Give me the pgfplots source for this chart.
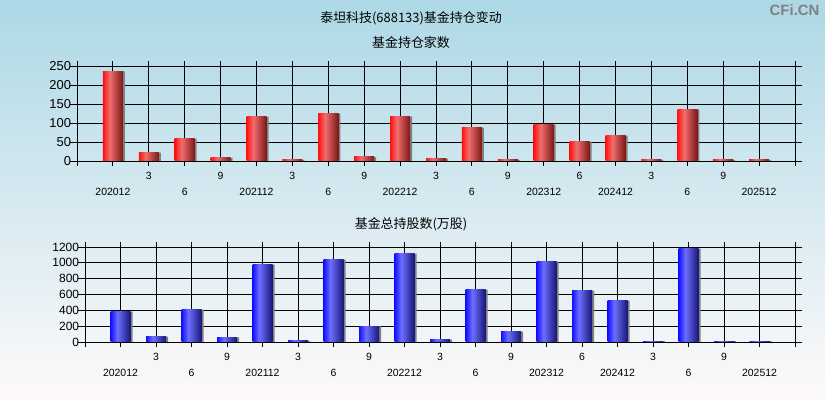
\documentclass[border=0pt]{standalone}
\usepackage{pgfplots}
\pgfplotsset{compat=1.18}
\usepackage{fontspec}
\setmainfont{Liberation Sans}
\newfontfamily\cjk{Noto Sans CJK SC}

\definecolor{bgtop}{RGB}{173,216,230}
\definecolor{bgbot}{RGB}{254,250,250}
\definecolor{r1}{RGB}{255,16,16}
\definecolor{r2}{RGB}{240,110,110}
\definecolor{r3}{RGB}{125,22,22}
\definecolor{b1}{RGB}{16,16,255}
\definecolor{b2}{RGB}{110,110,255}
\definecolor{b3}{RGB}{22,22,120}
\definecolor{shadow}{RGB}{128,128,128}
\pgfdeclarehorizontalshading{redbar}{100bp}{color(0bp)=(r1); color(25bp)=(r1); color(42bp)=(r2); color(75bp)=(r3); color(100bp)=(r3)}
\pgfdeclarehorizontalshading{bluebar}{100bp}{color(0bp)=(b1); color(25bp)=(b1); color(42bp)=(b2); color(75bp)=(b3); color(100bp)=(b3)}

% quarter index: 0 = 202012 ... 18 = 202512
\pgfplotstableread{
x  funds
0  236
1  22
2  59
3  8
4  117
5  3
6  125
7  11
8  117
9  6
10 88
11 3
12 96
13 51
14 67
15 3
16 136
17 3
18 3
}\funds
\pgfplotstableread{
x  shares
0  383
1  67
2  408
3  59
4  977
5  15
6  1040
7  198
8  1116
9  29
10 661
11 131
12 1015
13 648
14 522
15 10
16 1179
17 10
18 10
}\shares

\newcommand\lo[1]{\strut\\#1}
\pgfplotsset{
  chart/.style={
    scale only axis, height=95bp,
    xmin=-1, xmax=19, ymin=0,
    xtick={-1,...,19},
    xticklabels={{},\lo{202012},\strut3,\lo{6},\strut9,\lo{202112},\strut3,\lo{6},\strut9,\lo{202212},\strut3,\lo{6},\strut9,\lo{202312},\strut6,\lo{202412},\strut3,\lo{6},\strut9,\lo{202512},{}},
    xticklabel style={font=\fontsize{10.5}{16}\selectfont, align=center, anchor=north, inner sep=0pt, yshift=-2.5bp},
    grid=major, grid style={black, line width=0.9bp},
    axis line style={black, line width=0.9bp},
    tick style={black, line width=0.9bp},
    tick align=outside,
    xtick style={/pgfplots/major tick length=5bp},
    ytick style={/pgfplots/major tick length=7bp},
    /pgf/number format/assume math mode=true,
    /pgf/number format/1000 sep={},
  },
  shadowbar/.style={ybar, bar width=20bp, bar shift=2bp, fill=shadow, draw=none},
  bar/.style={ybar, bar width=20bp, bar shift=0pt, draw=none, shading=#1},
}

\begin{document}
\begin{tikzpicture}
\shade[top color=bgtop, bottom color=bgbot] (0,0) rectangle (825bp,400bp);

\node[font=\cjk\fontsize{13}{13}\selectfont] at (411bp,382bp) {泰坦科技(688133)基金持仓变动};
\node[font=\cjk\fontsize{13}{13}\selectfont] at (411bp,357bp) {基金持仓家数};
\node[font=\cjk\fontsize{13}{13}\selectfont] at (411bp,176bp) {基金总持股数(万股)};
\node[anchor=east, font=\bfseries\fontsize{15}{15}\selectfont, text=shadow] at (823bp,390bp) {CFi.CN};

\begin{axis}[chart, at={(77bp,239bp)}, anchor=south west,
  width=718bp, ymax=250, ytick={0,50,...,250},
  yticklabel style={font=\fontsize{13}{13}\selectfont, inner sep=1.5bp}]
\addplot[shadowbar] table[x=x, y=funds] {\funds};
\pgfplotsinvokeforeach{0,...,18}{
  \addplot[bar=redbar, restrict x to domain=#1:#1] table[x=x, y=funds] {\funds};
}
\end{axis}

\begin{axis}[chart, at={(85bp,58bp)}, anchor=south west,
  width=710bp, ymax=1200, ytick={0,200,...,1200},
  yticklabel style={font=\fontsize{12}{12}\selectfont, inner sep=1.5bp}]
\addplot[shadowbar] table[x=x, y=shares] {\shares};
\pgfplotsinvokeforeach{0,...,18}{
  \addplot[bar=bluebar, restrict x to domain=#1:#1] table[x=x, y=shares] {\shares};
}
\end{axis}
\end{tikzpicture}
\end{document}
